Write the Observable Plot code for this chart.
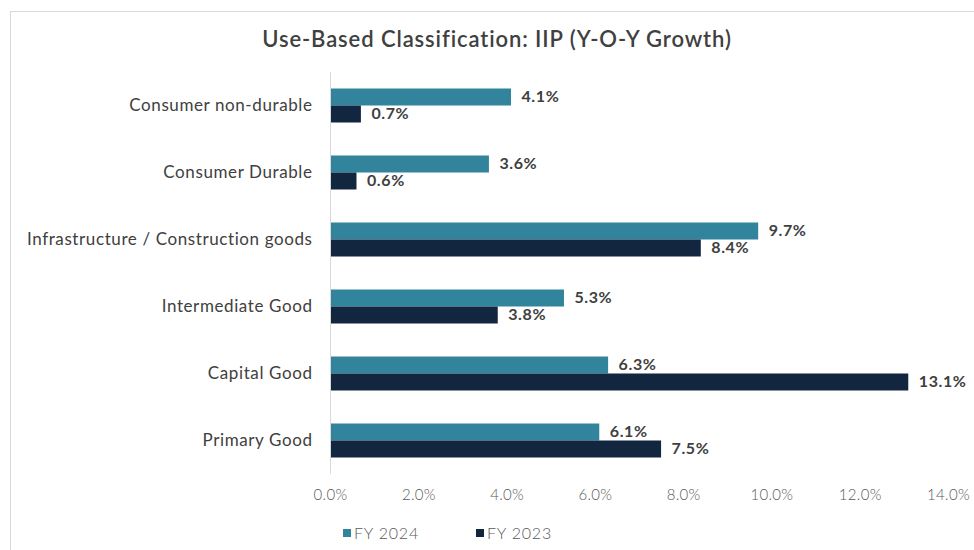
<!DOCTYPE html>
<html>
<head>
<meta charset="utf-8">
<script src="https://cdn.jsdelivr.net/npm/d3@7"></script>
<script src="https://cdn.jsdelivr.net/npm/@observablehq/plot@0.6"></script>
<style>
  html, body { margin: 0; padding: 0; background: #fff; }
  body { width: 974px; height: 550px; position: relative; overflow: hidden; font-family: Lato, "Open Sans", sans-serif; }
  #frame { position: absolute; left: 10px; top: 11px; width: 980px; height: 560px; border: 1px solid #d9d9d9; box-sizing: border-box; pointer-events: none; }
  #title { height: 60px; box-sizing: border-box; padding-top: 25px; text-align: center; font-size: 22px; font-weight: 600; color: #404040; padding-left: 20px; letter-spacing: 0.9px; }
  #chart svg { display: block; }
  #chart svg g[aria-label="fy-axis tick label"] text { letter-spacing: 0.6px; }
  #chart svg g[aria-label="text"] text { letter-spacing: 0.6px; }
  #chart svg g[aria-label="x-axis tick label"] text { letter-spacing: 0.3px; }
  #legend { position: relative; height: 40px; font-size: 16px; color: #595959; font-weight: 300; letter-spacing: 0.8px; }
  .lg { position: absolute; top: 13px; display: flex; align-items: center; }
  .sw { width: 8px; height: 8px; margin-right: 3px; }
</style>
</head>
<body>
<div id="frame"></div>
<div id="title">Use-Based Classification: IIP (Y-O-Y Growth)</div>
<div id="chart"></div>
<div id="legend"></div>
<script>
const categories = ["Consumer non-durable", "Consumer Durable", "Infrastructure / Construction goods", "Intermediate Good", "Capital Good", "Primary Good"];
const fy2024 = [4.1, 3.6, 9.7, 5.3, 6.3, 6.1];
const fy2023 = [0.7, 0.6, 8.4, 3.8, 13.1, 7.5];
const seriesNames = ["FY 2024", "FY 2023"];
const seriesColors = ["#31849b", "#132640"];
const xTicks = [0, 2, 4, 6, 8, 10, 12, 14];

const rows = [];
categories.forEach((c, i) => {
  rows.push({category: c, series: seriesNames[0], value: fy2024[i] / 100});
  rows.push({category: c, series: seriesNames[1], value: fy2023[i] / 100});
});

const chart = Plot.plot({
  width: 974,
  height: 450,
  marginTop: 11.5,
  marginBottom: 36.5,
  marginLeft: 330,
  marginRight: 26,
  style: {fontFamily: "Lato, 'Open Sans', sans-serif", background: "transparent"},
  x: {domain: [0, 0.14], ticks: xTicks.map(d => d / 100), tickFormat: d3.format(".1%"), tickSize: 0, tickPadding: 15, label: null},
  fy: {domain: categories, padding: 0, label: null, tickSize: 0, tickPadding: 18, axis: null},
  y: {domain: seriesNames, paddingInner: 0, paddingOuter: 0.97, axis: null},
  color: {domain: seriesNames, range: seriesColors},
  marks: [
    Plot.axisX({ticks: xTicks.map(d => d / 100), tickFormat: d3.format(".1%"), tickSize: 0, tickPadding: 15, label: null, fontSize: 15, fontWeight: 300, fill: "#595959"}),
    Plot.axisFy({domain: categories, tickSize: 0, tickPadding: 18, label: null, fontSize: 17, fill: "#404040", anchor: "left"}),
    Plot.barX(rows, {fy: "category", y: "series", x: "value", fill: "series"}),
    Plot.ruleX([0], {stroke: "#d9d9d9", strokeWidth: 1}),
    Plot.text(rows, {fy: "category", y: "series", x: "value", text: d => d3.format(".1%")(d.value), textAnchor: "start", dx: 10, dy: -1, fontSize: 16, fontWeight: 700, fill: "#404040"})
  ]
});
document.getElementById("chart").appendChild(chart);

const legend = document.getElementById("legend");
const lgX = [343, 476];
seriesNames.forEach((s, i) => {
  const el = document.createElement("div");
  el.className = "lg";
  el.style.left = lgX[i] + "px";
  el.innerHTML = `<span class="sw" style="background:${seriesColors[i]}"></span><span>${s}</span>`;
  legend.appendChild(el);
});
</script>
</body>
</html>
